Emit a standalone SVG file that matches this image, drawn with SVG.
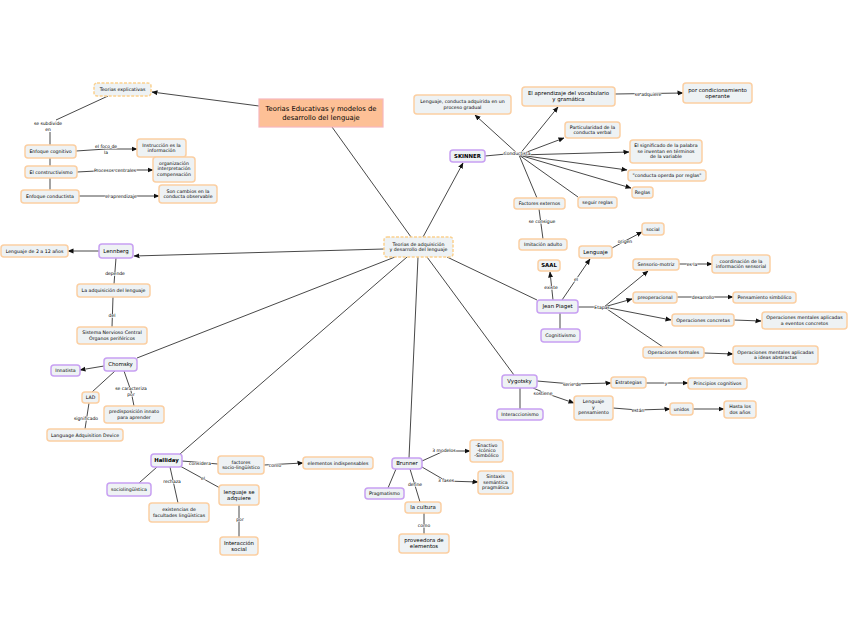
<svg xmlns="http://www.w3.org/2000/svg" width="848" height="638" viewBox="0 0 848 638">
<style>
text{font-family:"DejaVu Sans","Verdana",sans-serif;font-size:4.7px;fill:#000;text-anchor:middle}
.n rect{fill:#eef2f4;stroke:#fbcfa2;stroke-width:1.5}
.p rect{stroke:#c8a0f2}
.d rect{stroke:#fbd18e;stroke-dasharray:3 1.5}
.t rect{fill:#fdc096;stroke:#f7b6bd;stroke-width:1.2}
.t text{font-size:6.8px}
.b text{font-size:5.4px}
.bold text{font-weight:bold}
#conn path{fill:none;stroke:#333;stroke-width:0.9}
#conn path.a{marker-end:url(#arr)}
.lb{font-size:4.5px;stroke:#fff;stroke-width:1.2px;paint-order:stroke}
</style>
<defs>
<marker id="arr" markerUnits="userSpaceOnUse" markerWidth="6" markerHeight="6" refX="5.5" refY="3" orient="auto">
<path d="M0,0.5 L6,3 L0,5.5 z" fill="#111"/>
</marker>
</defs>
<rect width="848" height="638" fill="#fff"/>
<g id="conn">
<path class="a" d="M259,106 L152,92"/>
<path d="M332,127 L411,237"/>
<path class="a" d="M423,237 L463,163"/>
<path class="a" d="M384,249 L134,256"/>
<path d="M395,257 L137,358"/>
<path d="M407,257 L180,454"/>
<path d="M418,257 L409,458"/>
<path d="M427,257 L514,375"/>
<path d="M447,257 L537,300"/>
<path d="M108,96 L56,120"/>
<path d="M50,132 L50,190"/>
<path class="a" d="M76,151 L106,149 L137,149"/>
<path class="a" d="M77,172 L115,170 L153,170"/>
<path class="a" d="M79,196 L121,196 L159,196"/>
<path class="a" d="M99,251 L68,251"/>
<path d="M116,258 L114,284"/>
<path d="M113,297 L112,327"/>
<path class="a" d="M104,366 L80,370"/>
<path d="M115,371 L92,392"/>
<path d="M124,371 L131,391 L134,406"/>
<path d="M89,403 L85,429"/>
<path d="M182,461 L218,464"/>
<path class="a" d="M264,465 L303,463"/>
<path d="M157,467 L139,483"/>
<path d="M170,467 L178,503"/>
<path d="M180,466 L220,488"/>
<path d="M239,505 L239,537"/>
<path class="a" d="M422,461 L444,451 L470,451"/>
<path class="a" d="M422,467 L446,481 L478,482"/>
<path d="M396,469 L388,488"/>
<path d="M410,469 L420,502"/>
<path d="M424,513 L424,534"/>
<path class="a" d="M537,381 L572,384 L611,383"/>
<path class="a" d="M646,383 L688,383"/>
<path class="a" d="M533,388 L545,393 L574,403"/>
<path class="a" d="M613,408 L638,410 L670,409"/>
<path class="a" d="M693,409 L724,409"/>
<path d="M520,388 L520,409"/>
<path class="a" d="M553,300 L550,272"/>
<path d="M560,313 L560,329"/>
<path class="a" d="M562,300 L590,259"/>
<path class="a" d="M612,248 L625,241 L642,232"/>
<path d="M578,307 L604,307"/>
<path class="a" d="M604,307 L648,271"/>
<path class="a" d="M604,307 L632,299"/>
<path class="a" d="M604,307 L671,320"/>
<path d="M604,307 L663,347"/>
<path class="a" d="M679,264 L712,264"/>
<path class="a" d="M677,297 L733,297"/>
<path class="a" d="M734,320 L761,321"/>
<path class="a" d="M704,353 L733,354"/>
<path d="M485,156 L517,153"/>
<path class="a" d="M519,155 L475,115"/>
<path class="a" d="M519,155 L558,107"/>
<path class="a" d="M519,155 L564,138"/>
<path class="a" d="M519,155 L629,152"/>
<path class="a" d="M519,155 L627,170"/>
<path class="a" d="M519,155 L631,188"/>
<path d="M519,155 L578,197"/>
<path d="M519,155 L537,198"/>
<path class="a" d="M615,94 L683,93"/>
<path d="M539,209 L543,239"/>
</g>
<g id="labels">
<text class="lb" x="48" y="125">se subdivide<tspan x="48" dy="6">en</tspan></text>
<text class="lb" x="106" y="148">el foco de<tspan x="106" dy="5.5">la</tspan></text>
<text class="lb" x="115" y="171.5">Procesos centrales</text>
<text class="lb" x="121" y="197.5">el aprendizaje</text>
<text class="lb" x="517" y="154.5">Conductista</text>
<text class="lb" x="648" y="95.5">se adquiere</text>
<text class="lb" x="542" y="222.5">se consigue</text>
<text class="lb" x="115" y="274.5">depende</text>
<text class="lb" x="112" y="316.5">del</text>
<text class="lb" x="131" y="390">se caracteriza<tspan x="131" dy="5.5">por</tspan></text>
<text class="lb" x="86" y="419.5">significado</text>
<text class="lb" x="200" y="464.5">considera</text>
<text class="lb" x="275" y="466.5">como</text>
<text class="lb" x="172" y="482.5">rechaza</text>
<text class="lb" x="203" y="479.5">el</text>
<text class="lb" x="240" y="520.5">por</text>
<text class="lb" x="444" y="451.5">3 modelos</text>
<text class="lb" x="446" y="481.5">3 fases</text>
<text class="lb" x="415" y="486">define</text>
<text class="lb" x="424" y="526.5">como</text>
<text class="lb" x="572" y="385.5">serie de</text>
<text class="lb" x="666" y="384.5">y</text>
<text class="lb" x="543" y="394.5">sostiene</text>
<text class="lb" x="638" y="411.5">están</text>
<text class="lb" x="551" y="288.5">existe</text>
<text class="lb" x="576" y="280.5">el</text>
<text class="lb" x="625" y="242.5">origen</text>
<text class="lb" x="602" y="308.5">Etapas</text>
<text class="lb" x="692" y="265.5">es la</text>
<text class="lb" x="703" y="298.5">desarrollo</text>
</g>
<g id="title" class="n t"><rect x="259" y="99" width="124" height="28"/><text x="321" y="111">Teorias Educativas y modelos de<tspan x="321" dy="8.5">desarrollo del lenguaje</tspan></text></g>
<g id="texp" class="n d"><rect x="94" y="83" width="57" height="13" rx="3"/><text x="122.5" y="91.2">Teorias explicativas</text></g>
<g id="ecog" class="n"><rect x="25" y="145" width="51" height="13" rx="3"/><text x="50.5" y="153.2">Enfoque cognitivo</text></g>
<g id="constr" class="n"><rect x="25" y="166" width="52" height="12" rx="3"/><text x="51" y="173.6">El constructivismo</text></g>
<g id="econd" class="n"><rect x="21" y="190" width="58" height="13" rx="3"/><text x="50" y="198.2">Enfoque conductista</text></g>
<g id="instr" class="n"><rect x="137" y="139" width="49" height="18" rx="3"/><text x="161.5" y="146.5">Instrucción es la<tspan x="161.5" dy="5.5">información</tspan></text></g>
<g id="org" class="n"><rect x="153" y="157" width="42" height="25" rx="3"/><text x="174" y="164.5">organización<tspan x="174" dy="5.5">interpretación</tspan><tspan x="174" dy="5.5">compensación</tspan></text></g>
<g id="cambios" class="n"><rect x="159" y="185" width="58" height="18" rx="3"/><text x="188" y="192.5">Son cambios en la<tspan x="188" dy="5.5">conducta observable</tspan></text></g>
<g id="hub" class="n d"><rect x="384" y="237" width="69" height="20" rx="3"/><text x="418.5" y="245.5">Teorias de adquisición<tspan x="418.5" dy="5.5">y desarrollo del lenguaje</tspan></text></g>
<g id="skinner" class="n p b bold"><rect x="450" y="150" width="35" height="12" rx="3"/><text x="467.5" y="157.9">SKINNER</text></g>
<g id="lcond" class="n"><rect x="414" y="95" width="97" height="19" rx="3"/><text x="462.5" y="103">Lenguaje, conducta adquirida en un<tspan x="462.5" dy="5.5">proceso gradual</tspan></text></g>
<g id="aprend" class="n b"><rect x="522" y="87" width="93" height="19" rx="3"/><text x="568.5" y="95">El aprendizaje del vocabulario<tspan x="568.5" dy="6">y gramática</tspan></text></g>
<g id="condop" class="n b"><rect x="683" y="83" width="69" height="20" rx="3"/><text x="717.5" y="91.5">por condicionamiento<tspan x="717.5" dy="6">operante</tspan></text></g>
<g id="partic" class="n"><rect x="565" y="122" width="55" height="16" rx="3"/><text x="592.5" y="128.5">Particularidad de la<tspan x="592.5" dy="5.5">conducta verbal</tspan></text></g>
<g id="signif" class="n"><rect x="630" y="140" width="72" height="23" rx="3"/><text x="666" y="147">El significado de la palabra<tspan x="666" dy="5.5">se inventan en términos</tspan><tspan x="666" dy="5.5">de la variable</tspan></text></g>
<g id="operda" class="n"><rect x="628" y="170" width="78" height="11" rx="3"/><text x="667" y="177.1">"conducta operda por reglas"</text></g>
<g id="reglas" class="n"><rect x="632" y="187" width="21" height="11" rx="3"/><text x="642.5" y="194.1">Reglas</text></g>
<g id="seguir" class="n"><rect x="578" y="197" width="39" height="11" rx="3"/><text x="597.5" y="204.1">seguir reglas</text></g>
<g id="factext" class="n"><rect x="514" y="198" width="51" height="11" rx="3"/><text x="539.5" y="205.1">Factores externos</text></g>
<g id="imit" class="n"><rect x="519" y="239" width="48" height="11" rx="3"/><text x="543" y="246.1">Imitación adulto</text></g>
<g id="lennberg" class="n p b"><rect x="99" y="244" width="34" height="14" rx="3"/><text x="116" y="252.9">Lennberg</text></g>
<g id="l212" class="n"><rect x="1" y="245" width="67" height="12" rx="3"/><text x="34.5" y="252.6">Lenguaje de 2 a 12 años</text></g>
<g id="adq" class="n"><rect x="77" y="284" width="73" height="13" rx="3"/><text x="113.5" y="292.2">La adquisición del lenguaje</text></g>
<g id="snc" class="n"><rect x="77" y="327" width="70" height="17" rx="3"/><text x="112" y="334.3">Sistema Nervioso Central<tspan x="112" dy="5.5">Órganos periféricos</tspan></text></g>
<g id="chomsky" class="n p b"><rect x="104" y="358" width="33" height="13" rx="3"/><text x="120.5" y="366.4">Chomsky</text></g>
<g id="innat" class="n p"><rect x="51" y="365" width="29" height="11" rx="3"/><text x="65.5" y="372.1">Innatista</text></g>
<g id="lad" class="n"><rect x="82" y="392" width="17" height="11" rx="3"/><text x="90.5" y="399.1">LAD</text></g>
<g id="predis" class="n"><rect x="104" y="406" width="60" height="17" rx="3"/><text x="134" y="413.3">predisposición innato<tspan x="134" dy="5.5">para aprender</tspan></text></g>
<g id="lad2" class="n"><rect x="47" y="429" width="76" height="12" rx="3"/><text x="85" y="436.6">Language Adquisition Device</text></g>
<g id="halliday" class="n p b bold"><rect x="151" y="454" width="31" height="13" rx="3"/><text x="166.5" y="462.4">Halliday</text></g>
<g id="factores" class="n"><rect x="218" y="456" width="46" height="18" rx="3"/><text x="241" y="463.5">factores<tspan x="241" dy="5.5">socio-lingüístico</tspan></text></g>
<g id="indisp" class="n"><rect x="303" y="457" width="70" height="12" rx="3"/><text x="338" y="464.6">elementos indispensables</text></g>
<g id="socio" class="n p"><rect x="107" y="483" width="44" height="13" rx="3"/><text x="129" y="491.2">sociolingüística</text></g>
<g id="exist" class="n"><rect x="149" y="503" width="60" height="19" rx="3"/><text x="179" y="511">existencias de<tspan x="179" dy="5.5">facultades lingüísticas</tspan></text></g>
<g id="lsa" class="n b"><rect x="219" y="485" width="40" height="20" rx="3"/><text x="239" y="493.5">lenguaje se<tspan x="239" dy="6">adquiere</tspan></text></g>
<g id="interac" class="n b"><rect x="220" y="537" width="38" height="18" rx="3"/><text x="239" y="544.5">Interacción<tspan x="239" dy="6">social</tspan></text></g>
<g id="brunner" class="n p b"><rect x="392" y="458" width="30" height="11" rx="3"/><text x="407" y="465.4">Brunner</text></g>
<g id="modelos" class="n"><rect x="470" y="440" width="33" height="22" rx="3"/><text x="486.5" y="446.5">-Enactivo<tspan x="486.5" dy="5.3">-Icónico</tspan><tspan x="486.5" dy="5.3">-Simbólico</tspan></text></g>
<g id="fases" class="n"><rect x="478" y="471" width="35" height="23" rx="3"/><text x="495.5" y="478">Sintaxis<tspan x="495.5" dy="5.5">semántica</tspan><tspan x="495.5" dy="5.5">pragmática</tspan></text></g>
<g id="pragm" class="n p"><rect x="365" y="488" width="39" height="11" rx="3"/><text x="384.5" y="495.1">Pragmatismo</text></g>
<g id="cultura" class="n b"><rect x="405" y="502" width="36" height="11" rx="3"/><text x="423" y="509.4">la cultura</text></g>
<g id="proveed" class="n b"><rect x="399" y="534" width="50" height="19" rx="3"/><text x="424" y="542">proveedora de<tspan x="424" dy="6">elementos</tspan></text></g>
<g id="vygotsky" class="n p b"><rect x="502" y="375" width="35" height="13" rx="3"/><text x="519.5" y="383.4">Vygotsky</text></g>
<g id="estrat" class="n"><rect x="611" y="377" width="35" height="11" rx="3"/><text x="628.5" y="384.1">Estrategias</text></g>
<g id="princ" class="n"><rect x="688" y="378" width="59" height="11" rx="3"/><text x="717.5" y="385.1">Principios cognitivos</text></g>
<g id="lyp" class="n"><rect x="574" y="396" width="39" height="24" rx="3"/><text x="593.5" y="403">Lenguaje<tspan x="593.5" dy="5.5">y</tspan><tspan x="593.5" dy="5.5">pensamiento</tspan></text></g>
<g id="unidos" class="n"><rect x="670" y="403" width="23" height="12" rx="3"/><text x="681.5" y="410.6">unidos</text></g>
<g id="hasta" class="n"><rect x="724" y="401" width="32" height="17" rx="3"/><text x="740" y="408.3">Hasta los<tspan x="740" dy="5.5">dos años</tspan></text></g>
<g id="interacc" class="n p"><rect x="497" y="409" width="46" height="11" rx="3"/><text x="520" y="416.1">Interaccionismo</text></g>
<g id="piaget" class="n p b"><rect x="537" y="300" width="41" height="13" rx="3"/><text x="557.5" y="308.4">Jean Piaget</text></g>
<g id="saal" class="n b bold"><rect x="538" y="260" width="22" height="11" rx="3"/><text x="549" y="267.4">SAAL</text></g>
<g id="cogn" class="n p"><rect x="541" y="329" width="39" height="13" rx="3"/><text x="560.5" y="337.2">Cognitivismo</text></g>
<g id="leng" class="n b"><rect x="579" y="246" width="33" height="12" rx="3"/><text x="595.5" y="253.9">Lenguaje</text></g>
<g id="social" class="n"><rect x="642" y="223" width="22" height="12" rx="3"/><text x="653" y="230.6">social</text></g>
<g id="sens" class="n"><rect x="633" y="259" width="46" height="11" rx="3"/><text x="656" y="266.1">Sensorio-motriz</text></g>
<g id="preop" class="n"><rect x="633" y="292" width="44" height="11" rx="3"/><text x="655" y="299.1">preoperacional</text></g>
<g id="opconc" class="n"><rect x="672" y="314" width="62" height="12" rx="3"/><text x="703" y="321.6">Operaciones concretas</text></g>
<g id="opform" class="n"><rect x="643" y="347" width="61" height="11" rx="3"/><text x="673.5" y="354.1">Operaciones formales</text></g>
<g id="coord" class="n"><rect x="712" y="255" width="58" height="18" rx="3"/><text x="741" y="262.5">coordinación de la<tspan x="741" dy="5.5">información sensorial</tspan></text></g>
<g id="simb" class="n"><rect x="733" y="292" width="63" height="11" rx="3"/><text x="764.5" y="299.1">Pensamiento simbólico</text></g>
<g id="opmc" class="n"><rect x="762" y="312" width="85" height="17" rx="3"/><text x="804.5" y="319.3">Operaciones mentales aplicadas<tspan x="804.5" dy="5.5">a eventos concretos</tspan></text></g>
<g id="opma" class="n"><rect x="733" y="346" width="85" height="18" rx="3"/><text x="775.5" y="353.5">Operaciones mentales aplicadas<tspan x="775.5" dy="5.5">a ideas abstractas</tspan></text></g>
</svg>
